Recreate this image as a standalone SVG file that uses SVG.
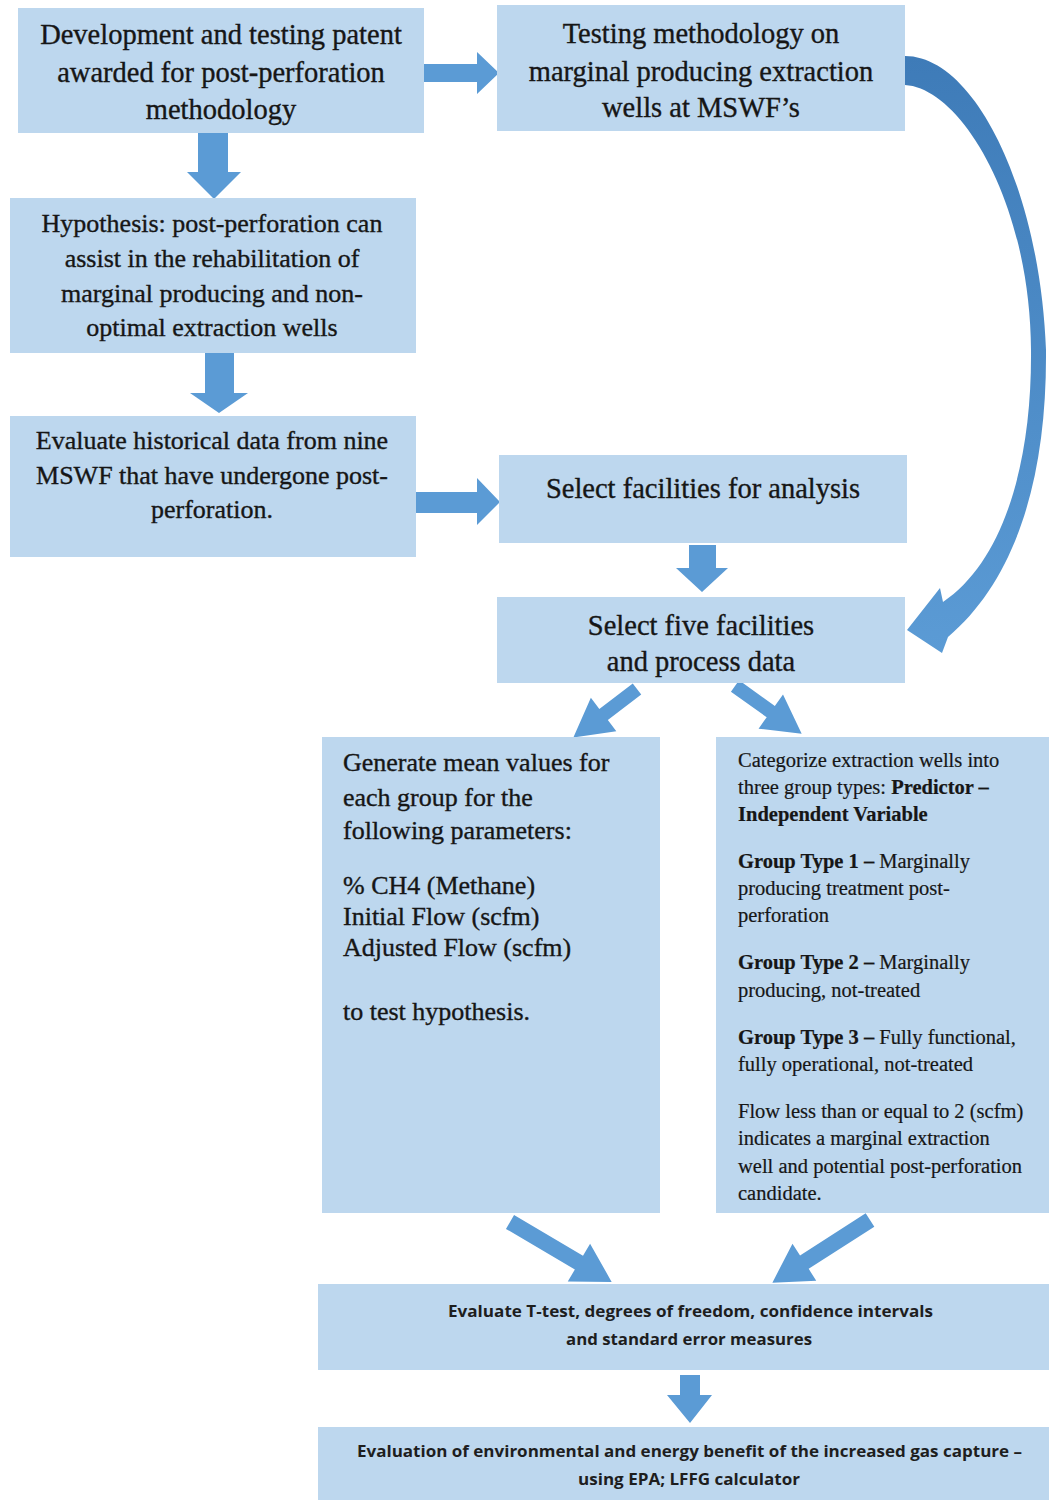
<svg xmlns="http://www.w3.org/2000/svg" width="1049" height="1500" viewBox="0 0 1049 1500">
<defs>
<style>
.box{fill:#BDD7EE}
.arr{fill:#5B9BD5}
.s{font-family:"Liberation Serif","Times New Roman",serif;fill:#161616;stroke:#161616;stroke-width:0.35}
.c{text-anchor:middle}
.f28{font-size:28.5px}
.f26{font-size:26px}
.f20{font-size:20.5px;stroke-width:0.2}
.b{font-weight:bold}
.sans{font-family:"Open Sans","Liberation Sans",sans-serif;font-weight:700;font-size:16.5px;fill:#1e1e1e}
</style>
<linearGradient id="cg" x1="0" y1="0" x2="0" y2="1">
<stop offset="0" stop-color="#3E7BB8"/>
<stop offset="1" stop-color="#5B9BD5"/>
</linearGradient>
</defs>
<rect width="1049" height="1500" fill="#fff"/>

<g id="connectors">
<path class="arr" d="M424,64 L477,64 L477,52 L499,73 L477,94 L477,82 L424,82 Z"/>
<path class="arr" d="M198,133 L228,133 L228,172 L241,172 L214,199 L187,172 L198,172 Z"/>
<path class="arr" d="M205,353 L234,353 L234,393 L248,393 L219,413 L190,393 L205,393 Z"/>
<path class="arr" d="M416,492 L477,492 L477,478 L500,502 L477,525 L477,513 L416,513 Z"/>
<path class="arr" d="M689,545 L716,545 L716,568 L728,568 L702,592 L676,568 L689,568 Z"/>
<path class="arr" d="M0,-7 L42,-7 L42,-21 L80,0 L42,21 L42,7 L0,7 Z" transform="translate(637,689) rotate(142.7)"/>
<path class="arr" d="M0,-7 L44,-7 L44,-21 L82,0 L44,21 L44,7 L0,7 Z" transform="translate(735,686) rotate(35.6)"/>
<path class="arr" d="M0,-8 L80,-8 L80,-22 L118,0 L80,22 L80,8 L0,8 Z" transform="translate(510,1222) rotate(30.5)"/>
<path class="arr" d="M0,-8 L78,-8 L78,-22 L116,0 L78,22 L78,8 L0,8 Z" transform="translate(870,1220) rotate(147.3)"/>
<path class="arr" d="M680,1375 L700,1375 L700,1395 L712,1395 L690,1423 L667,1395 L680,1395 Z"/>
<path fill="url(#cg)" d="M905,56 C975,56 1040,190 1046,350 C1047,480 1015,580 948,637 L942,653 L907,630 L940,588 L943,602 C1005,560 1032,460 1031,350 C1030,200 960,88 905,85 Z"/>
</g>

<g id="n1">
<rect class="box" x="18" y="8" width="406" height="125"/>
<text class="s c f28" x="221"><tspan x="221" y="44">Development and testing patent</tspan><tspan x="221" y="82">awarded for post-perforation</tspan><tspan x="221" y="119">methodology</tspan></text>
</g>

<g id="n2">
<rect class="box" x="497" y="5" width="408" height="126"/>
<text class="s c f28" x="701"><tspan x="701" y="43">Testing methodology on</tspan><tspan x="701" y="81">marginal producing extraction</tspan><tspan x="701" y="117">wells at MSWF’s</tspan></text>
</g>

<g id="n3">
<rect class="box" x="10" y="198" width="406" height="155"/>
<text class="s c f26" x="212"><tspan x="212" y="232">Hypothesis: post-perforation can</tspan><tspan x="212" y="267">assist in the rehabilitation of</tspan><tspan x="212" y="302">marginal producing and non-</tspan><tspan x="212" y="336">optimal extraction wells</tspan></text>
</g>

<g id="n4">
<rect class="box" x="10" y="416" width="406" height="141"/>
<text class="s c f26" x="212"><tspan x="212" y="449">Evaluate historical data from nine</tspan><tspan x="212" y="484">MSWF that have undergone post-</tspan><tspan x="212" y="518">perforation.</tspan></text>
</g>

<g id="n5">
<rect class="box" x="499" y="455" width="408" height="88"/>
<text class="s c f28" x="703" y="498">Select facilities for analysis</text>
</g>

<g id="n6">
<rect class="box" x="497" y="597" width="408" height="86"/>
<text class="s c f28" x="701"><tspan x="701" y="635">Select five facilities</tspan><tspan x="701" y="671">and process data</tspan></text>
</g>

<g id="n7">
<rect class="box" x="322" y="737" width="338" height="476"/>
<text class="s f26" x="343"><tspan x="343" y="771">Generate mean values for</tspan><tspan x="343" y="806">each group for the</tspan><tspan x="343" y="839">following parameters:</tspan><tspan x="343" y="894">% CH4 (Methane)</tspan><tspan x="343" y="925">Initial Flow (scfm)</tspan><tspan x="343" y="956">Adjusted Flow (scfm)</tspan><tspan x="343" y="1020">to test hypothesis.</tspan></text>
</g>

<g id="n8">
<rect class="box" x="716" y="737" width="333" height="476"/>
<text class="s f20" x="738">
<tspan x="738" y="767">Categorize extraction wells into</tspan>
<tspan x="738" y="794">three group types: <tspan class="b">Predictor –</tspan></tspan>
<tspan x="738" y="821" class="b">Independent Variable</tspan>
<tspan x="738" y="868"><tspan class="b">Group Type 1 –</tspan> Marginally</tspan>
<tspan x="738" y="895">producing treatment post-</tspan>
<tspan x="738" y="922">perforation</tspan>
<tspan x="738" y="969"><tspan class="b">Group Type 2 –</tspan> Marginally</tspan>
<tspan x="738" y="997">producing, not-treated</tspan>
<tspan x="738" y="1044"><tspan class="b">Group Type 3 –</tspan> Fully functional,</tspan>
<tspan x="738" y="1071">fully operational, not-treated</tspan>
<tspan x="738" y="1118">Flow less than or equal to 2 (scfm)</tspan>
<tspan x="738" y="1145">indicates a marginal extraction</tspan>
<tspan x="738" y="1173">well and potential post-perforation</tspan>
<tspan x="738" y="1200">candidate.</tspan>
</text>
</g>

<g id="n9">
<rect class="box" x="318" y="1284" width="731" height="86"/>
<text class="sans" x="448" y="1317" textLength="485" lengthAdjust="spacingAndGlyphs">Evaluate T-test, degrees of freedom, confidence intervals</text>
<text class="sans" x="566" y="1345" textLength="246" lengthAdjust="spacingAndGlyphs">and standard error measures</text>
</g>

<g id="n10">
<rect class="box" x="318" y="1427" width="731" height="73"/>
<text class="sans" x="357" y="1457" textLength="665" lengthAdjust="spacingAndGlyphs">Evaluation of environmental and energy benefit of the increased gas capture –</text>
<text class="sans" x="578" y="1485" textLength="222" lengthAdjust="spacingAndGlyphs">using EPA; LFFG calculator</text>
</g>
</svg>
